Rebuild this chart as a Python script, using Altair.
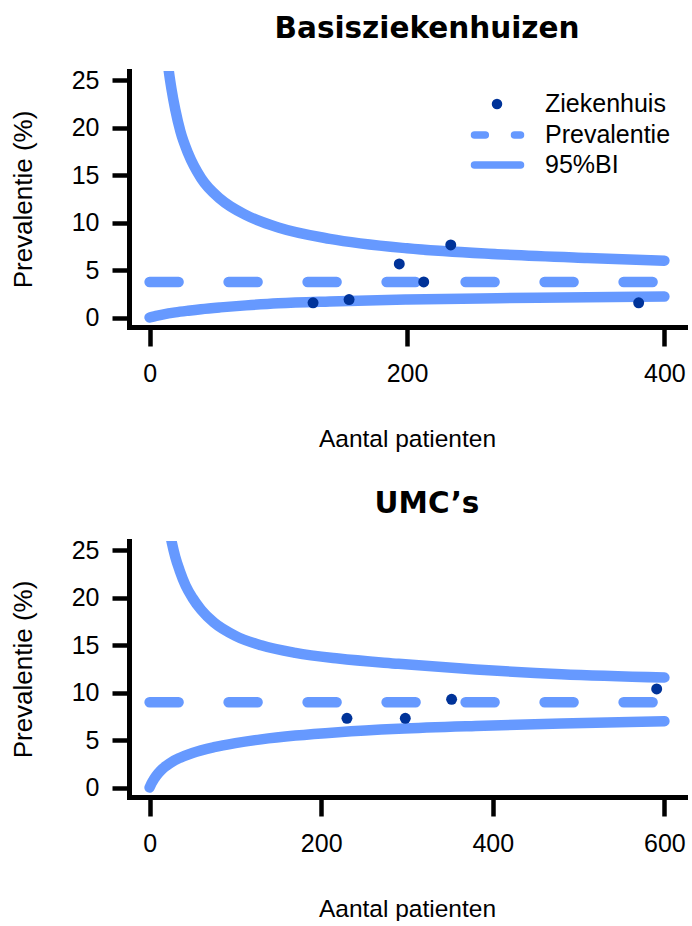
import altair as alt
import pandas as pd

LIGHT = "#6699FF"
DARK = "#003399"

# ---- Basisziekenhuizen ----
bz_n = [127, 155, 194, 213, 234, 380]
bz_prev = [1.55, 1.9, 5.65, 3.75, 7.65, 1.55]
bz_mean = 3.75
bz_upper_n = [13, 14, 15, 17, 20, 24, 30, 40, 55, 75, 100, 140, 200, 270, 340, 400]
bz_upper = [28.2, 27.0, 25.9, 24.1, 21.9, 19.6, 17.3, 14.7, 12.5, 10.8, 9.5, 8.3, 7.3, 6.68, 6.28, 6.0]
bz_lower_n = [0, 2, 5, 10, 20, 30, 40, 55, 75, 100, 140, 200, 270, 340, 400]
bz_lower = [0, 0.07, 0.17, 0.31, 0.54, 0.72, 0.88, 1.07, 1.28, 1.5, 1.7, 1.9, 2.04, 2.15, 2.22]
bz_xticks = [0, 200, 400]

# ---- UMC's ----
umc_n = [230, 298, 352, 591]
umc_prev = [7.3, 7.3, 9.3, 10.4]
umc_mean = 9.0
umc_upper_n = [22, 24, 26, 30, 35, 42, 50, 60, 75, 100, 130, 170, 220, 290, 380, 480, 600]
umc_upper = [27.7, 26.7, 25.8, 24.3, 22.9, 21.3, 20.0, 18.75, 17.4, 16.0, 15.0, 14.2, 13.6, 13.05, 12.45, 11.95, 11.6]
umc_lower_n = [0, 2, 5, 10, 15, 20, 26, 35, 50, 75, 100, 130, 170, 220, 290, 380, 480, 600]
umc_lower = [0, 0.4, 0.87, 1.49, 1.97, 2.33, 2.7, 3.12, 3.65, 4.25, 4.68, 5.08, 5.48, 5.84, 6.2, 6.5, 6.75, 7.0]
umc_xticks = [0, 200, 400, 600]

y_ticks = [0, 5, 10, 15, 20, 25]
legend_labels = ["Ziekenhuis", "Prevalentie", "95%BI"]

W, H = 556, 256


def panel(title, title_offset, n, prev, mean, xmax, up_n, up, lo_n, lo, xticks, legend=False):
    pts = pd.DataFrame({"n": n, "v": prev})
    upd = pd.DataFrame({"n": up_n, "v": up})
    lod = pd.DataFrame({"n": lo_n, "v": lo})
    md = pd.DataFrame({"n": [0, xmax], "v": [mean, mean]})
    ext = xmax * 0.04
    xs = alt.Scale(domain=[-ext, xmax + ext], nice=False, zero=False)
    ys = alt.Scale(domain=[-1, 26], nice=False, zero=False)
    xax = alt.Axis(values=xticks, title="Aantal patienten", format="d", labelFlush=False)
    yax = alt.Axis(values=y_ticks, title="Prevalentie (%)", format="d")
    X = alt.X("n:Q", scale=xs, axis=xax)
    Y = alt.Y("v:Q", scale=ys, axis=yax)
    style = dict(color=LIGHT, strokeWidth=10.5, strokeCap="round", strokeJoin="round")
    upper = alt.Chart(upd).mark_line(clip=True, interpolate="monotone", **style).encode(x=X, y=Y)
    lower = alt.Chart(lod).mark_line(clip=True, interpolate="monotone", **style).encode(x=X, y=Y)
    mline = alt.Chart(md).mark_line(strokeDash=[29, 50], **style).encode(x=X, y=Y)
    points = alt.Chart(pts).mark_circle(size=120, color=DARK, opacity=1).encode(x=X, y=Y)
    layers = [upper, lower, mline, points]
    if legend:
        one = pd.DataFrame({"a": [0]})
        layers.append(alt.Chart(one).mark_circle(size=110, color=DARK, opacity=1)
                      .encode(x=alt.value(368), y=alt.value(33)))
        layers.append(alt.Chart(one).mark_rule(color=LIGHT, strokeWidth=7.5, strokeCap="round",
                                               strokeDash=[10.8, 29.2])
                      .encode(x=alt.value(345.5), x2=alt.value(391.5), y=alt.value(64)))
        layers.append(alt.Chart(one).mark_rule(color=LIGHT, strokeWidth=7.5, strokeCap="round")
                      .encode(x=alt.value(345.5), x2=alt.value(391.5), y=alt.value(94)))
        for i, lab in enumerate(legend_labels):
            layers.append(alt.Chart(one).mark_text(text=lab, align="left", baseline="middle",
                                                   font="Liberation Sans", fontSize=25, color="black")
                          .encode(x=alt.value(416), y=alt.value(33 + 30.5 * i)))
    return alt.layer(*layers).properties(
        width=W, height=H,
        title=alt.TitleParams(title, offset=title_offset, baseline="alphabetic", dx=20),
    )


top = panel("Basisziekenhuizen", 1, bz_n, bz_prev, bz_mean, 400,
            bz_upper_n, bz_upper, bz_lower_n, bz_lower, bz_xticks, legend=True)
bottom = panel("UMC\u2019s", -4, umc_n, umc_prev, umc_mean, 600,
               umc_upper_n, umc_upper, umc_lower_n, umc_lower, umc_xticks)

chart = (
    alt.vconcat(top, bottom, spacing=37)
    .properties(padding={"left": 10, "top": 13, "right": 5, "bottom": 0})
    .configure_view(stroke=None)
    .configure_axis(grid=False, domainColor="black", domainWidth=5, domainCap="square",
                    tickColor="black", tickWidth=4.5, labelFont="Liberation Sans",
                    labelFontSize=25, labelColor="black", titleFont="Liberation Sans",
                    titleFontWeight="normal", titleColor="black")
    .configure_axisX(tickSize=19, labelPadding=15, titleFontSize=24.5, titlePadding=41)
    .configure_axisY(tickSize=17, labelPadding=13, titleFontSize=26, titlePadding=35)
    .configure_title(font="DejaVu Sans", fontSize=29.5, fontWeight="bold", color="black",
                     anchor="middle")
)

chart.save("out.html", embed_options={"renderer": "svg", "actions": False})
